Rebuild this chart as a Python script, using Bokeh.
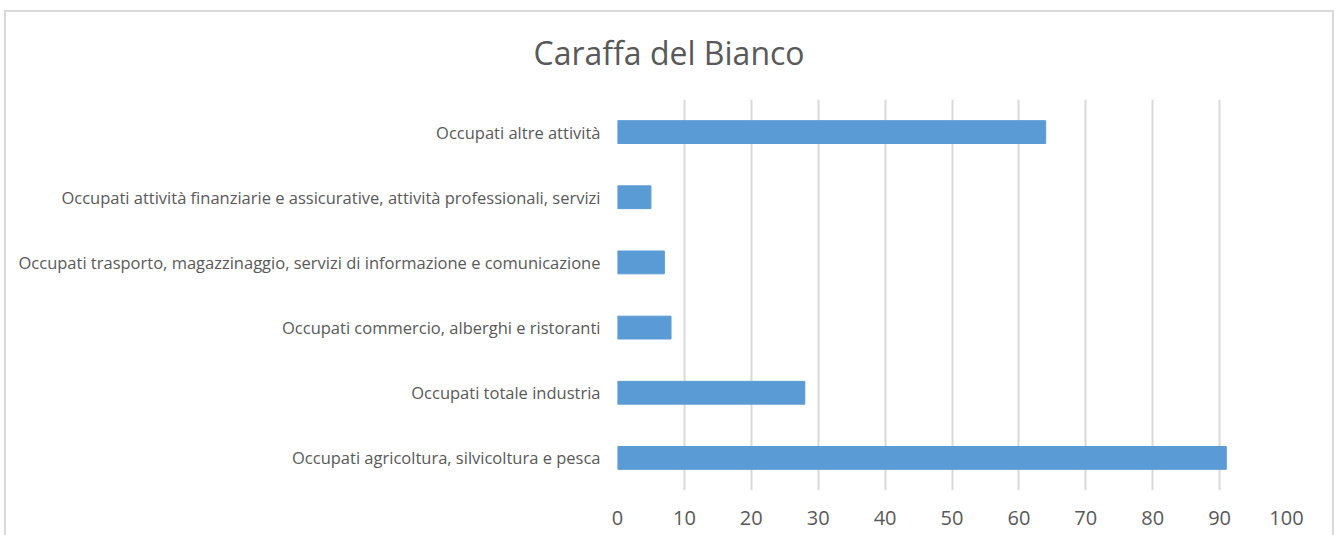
from bokeh.plotting import figure
from bokeh.models import FactorRange, Range1d, FixedTicker
from bokeh.layouts import column
from bokeh.embed import file_html
from bokeh.resources import INLINE

title_text = "Caraffa del Bianco"
categories = [
    "Occupati agricoltura, silvicoltura e pesca",
    "Occupati totale industria",
    "Occupati commercio, alberghi e ristoranti",
    "Occupati trasporto, magazzinaggio, servizi di informazione e comunicazione",
    "Occupati attività finanziarie e assicurative, attività professionali, servizi",
    "Occupati altre attività",
]
values = [91, 28, 8, 7, 5, 64]
x_ticks = [0, 10, 20, 30, 40, 50, 60, 70, 80, 90, 100]

FONT = "Open Sans"
GREY = "#595959"

p = figure(
    width=1326, height=536,
    y_range=FactorRange(factors=categories),
    x_range=Range1d(0, 100),
    output_backend="svg", toolbar_location=None,
    min_border_left=611, min_border_right=46,
    min_border_top=60, min_border_bottom=48,
)
p.outline_line_color = None
p.background_fill_color = None
p.border_fill_color = None
p.styles = {"margin-top": "-10px"}

p.title.text = title_text
p.title.align = "left"
p.title.offset = -84
p.title.text_font = FONT
p.title.text_font_size = "32px"
p.title.text_font_style = "normal"
p.title.text_color = GREY
p.title.standoff = 52

p.hbar(y=categories, right=values, left=0, height=0.35,
       fill_color="#5b9bd5", line_color="#5b9bd5")

p.xaxis.ticker = FixedTicker(ticks=x_ticks)
p.xaxis.axis_line_color = None
p.xaxis.major_tick_line_color = None
p.xaxis.minor_tick_line_color = None
p.xaxis.major_label_standoff = 14
p.xaxis.major_label_text_font = FONT
p.xaxis.major_label_text_font_size = "20px"
p.xaxis.major_label_text_color = GREY

p.yaxis.axis_line_color = None
p.yaxis.major_tick_line_color = None
p.yaxis.minor_tick_line_color = None
p.yaxis.major_label_standoff = 11
p.yaxis.major_label_text_font = FONT
p.yaxis.major_label_text_font_size = "16.5px"
p.yaxis.major_label_text_color = GREY

p.xgrid.grid_line_color = "#d9d9d9"
p.xgrid.grid_line_width = 2
p.ygrid.grid_line_color = None

layout = column(p, styles={"border": "2px solid #d9d9d9", "margin-left": "4px",
                           "margin-top": "10px", "background-color": "white"})

open("out.html", "w").write(file_html(layout, INLINE))
